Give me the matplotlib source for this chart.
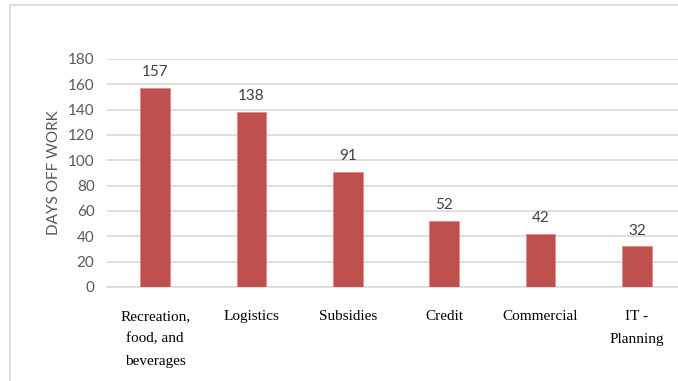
"""
Days off work by area - bar chart
"""
import matplotlib
matplotlib.use('Agg')
import matplotlib.pyplot as plt
from matplotlib.patches import Rectangle
import numpy as np

areas = ['Recreation,\nfood, and\nbeverages', 'Logistics', 'Subsidies',
         'Credit', 'Commercial', 'IT -\nPlanning']
days_off = [157, 138, 91, 52, 42, 32]
y_ticks = [0, 20, 40, 60, 80, 100, 120, 140, 160, 180]

fig = plt.figure(figsize=(6.78, 3.81), dpi=100)

# outer chart border (cropped on the right/bottom in the original)
fig.patches.append(Rectangle((10/678, -0.1), 1.0, 1 - 5/381 + 0.1,
                             transform=fig.transFigure, fill=False,
                             edgecolor='#d9d9d9', linewidth=1.2))

ax = fig.add_axes([107/678, 1 - 287/381, 578/678, 228/381])

x = np.arange(len(areas))
ax.bar(x, days_off, width=0.31, color='#c0504d', edgecolor='#e08a88',
       linewidth=0.6, zorder=3)

for xi, v in zip(x, days_off):
    ax.text(xi, v + 7, str(v), ha='center', va='bottom', fontsize=11,
            color='#404040', family='Lato')

ax.set_xlim(-0.5, len(areas) - 0.5)
ax.set_ylim(0, 180)
ax.set_yticks(y_ticks)
ax.yaxis.grid(True, color='#d9d9d9', linewidth=1.2, zorder=0)
ax.set_axisbelow(True)
for s in ['top', 'right', 'left']:
    ax.spines[s].set_visible(False)
ax.spines['bottom'].set_color('#d9d9d9')
ax.spines['bottom'].set_linewidth(1.2)
ax.tick_params(axis='both', length=0)
ax.tick_params(axis='y', pad=9, labelcolor='#595959', labelsize=11)
for t in ax.get_yticklabels():
    t.set_family('Lato')

# category labels: one line at a time, wide line spacing as in the original
ax.set_xticks(x)
ax.set_xticklabels([])
for xi, name in zip(x, areas):
    for i, line in enumerate(name.split('\n')):
        ax.annotate(line, xy=(xi, 0), xycoords=('data', 'axes fraction'),
                    xytext=(0, -(23.8 + i * 16.2)), textcoords='offset points',
                    ha='center', va='baseline', family='Liberation Serif',
                    fontsize=11, color='#000000')

ax.set_ylabel('DAYS OFF WORK', family='Lato', fontsize=11,
              color='#595959', labelpad=5)

fig.savefig('out.png', dpi=100)
